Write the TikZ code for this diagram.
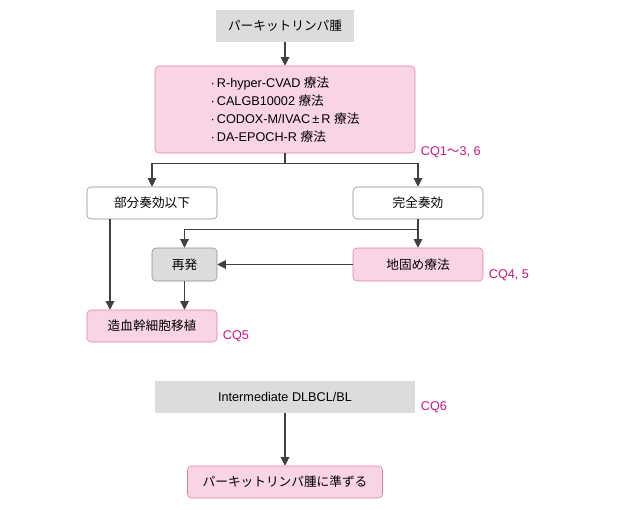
\documentclass[tikz,border=0pt]{standalone}
\usepackage{fontspec}
\setmainfont{Liberation Sans}
\newfontfamily\jp{Noto Sans CJK JP}
\usepackage{tikz}
\usetikzlibrary{positioning,arrows.meta,calc}
\definecolor{pinkfill}{HTML}{F9D4E4}
\definecolor{pinkline}{HTML}{E27AA8}
\definecolor{grayfill}{HTML}{DCDCDC}
\definecolor{grayline}{HTML}{8A8A8A}
\definecolor{cq}{HTML}{C8157F}

\begin{document}
\begin{tikzpicture}[x=0.75pt,y=-0.75pt,font=\fontsize{9.5}{13.5}\selectfont,
  grey/.style={fill=grayfill,minimum height=24pt,inner sep=2pt},
  pink/.style={draw=pinkline,fill=pinkfill,rounded corners=3pt,minimum height=24pt,inner sep=2pt},
  plain/.style={draw=grayline,fill=white,rounded corners=3pt,minimum width=97.5pt,minimum height=24pt},
  relbox/.style={draw=grayline,fill=grayfill,rounded corners=3pt,minimum width=48.75pt,minimum height=24.75pt},
  cqlab/.style={text=cq,anchor=base west,inner sep=0pt},
  arr/.style={-{Triangle[length=6.5pt,width=6.5pt]},black!75,line width=0.8pt}]
\useasboundingbox (0,0) rectangle (625,510);
% first line treatment
\node[grey,minimum width=103.5pt] (burkitt) at (285,26) {\jp パーキットリンパ腫};
\node[pink,minimum width=195pt,minimum height=65.25pt,align=left] (induct) at (285,109.5)
  {·\,R-hyper-CVAD {\jp 療法}\\·\,CALGB10002 {\jp 療法}\\·\,CODOX-M/IVAC\,±\,R {\jp 療法}\\·\,DA-EPOCH-R {\jp 療法}};
\node[cqlab] at ([xshift=4pt,yshift=-1.5pt]induct.south east) {CQ1{\jp 〜}3, 6};
\draw[arr] (burkitt) -- (induct);
% response
\node[plain] (partial) at (152,203) {\jp 部分奏効以下};
\node[plain] (complete) at (418,203) {\jp 完全奏効};
\draw[arr] (induct.south) -- ++(0,10) -| (partial.north);
\draw[arr] (induct.south) -- ++(0,10) -| (complete.north);
\node[relbox] (relapse) at (184.5,264.5) {\jp 再発};
\node[pink,minimum width=97.5pt,minimum height=24.75pt] (consol) at (418,264.5) {\jp 地固め療法};
\node[cqlab] at ([xshift=4pt,yshift=2.25pt]consol.south east) {CQ4, 5};
\node[pink,minimum width=97.5pt] (sct) at (152,326) {\jp 造血幹細胞移植};
\node[cqlab] at ([xshift=4pt,yshift=2.25pt]sct.south east) {CQ5};
\draw[arr] (complete) -- (consol);
\draw[arr] ([yshift=-7.5pt]complete.south) -| (relapse.north);
\draw[arr] (consol) -- (relapse);
\draw[arr] ([xshift=-31.5pt]partial.south) -- ([xshift=-31.5pt]sct.north);
\draw[arr] (relapse.south) -- (relapse.south |- sct.north);
% intermediate
\node[grey,minimum width=195pt] (inter) at (285,397) {Intermediate DLBCL/BL};
\node[cqlab] at ([xshift=4pt,yshift=2.25pt]inter.south east) {CQ6};
\node[pink,minimum width=146.25pt] (follow) at (285,482) {\jp パーキットリンパ腫に準ずる};
\draw[arr] (inter) -- (follow);
\end{tikzpicture}
\end{document}
